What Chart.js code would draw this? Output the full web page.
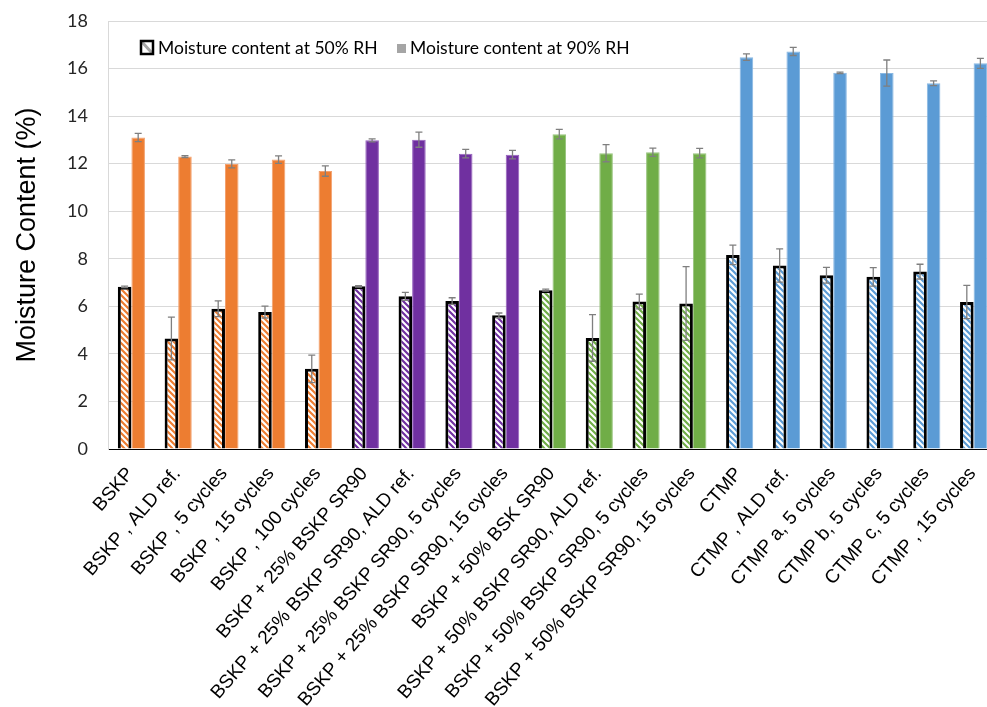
<!DOCTYPE html>
<html>
<head>
<meta charset="utf-8">
<script src="https://cdn.jsdelivr.net/npm/chart.js@4.4.1/dist/chart.umd.min.js"></script>
<style>
  html, body { margin: 0; padding: 0; background: #fff; overflow: hidden; }
</style>
</head>
<body>
<canvas id="chart" width="1000" height="707" style="width:1000px;height:707px"></canvas>
<script>
const categories = [
  'BSKP', 'BSKP , ALD ref.', 'BSKP , 5 cycles', 'BSKP , 15 cycles', 'BSKP , 100 cycles',
  'BSKP + 25% BSKP SR90', 'BSKP + 25% BSKP SR90, ALD ref.', 'BSKP + 25% BSKP SR90, 5 cycles', 'BSKP + 25% BSKP SR90, 15 cycles',
  'BSKP + 50% BSK SR90', 'BSKP + 50% BSKP SR90, ALD ref.', 'BSKP + 50% BSKP SR90, 5 cycles', 'BSKP + 50% BSKP SR90, 15 cycles',
  'CTMP', 'CTMP , ALD ref.', 'CTMP a, 5 cycles', 'CTMP b, 5 cycles', 'CTMP c, 5 cycles', 'CTMP , 15 cycles'
];
// pulp family of each sample: 0 BSKP, 1 +25% SR90, 2 +50% SR90, 3 CTMP
const family = [0, 0, 0, 0, 0, 1, 1, 1, 1, 2, 2, 2, 2, 3, 3, 3, 3, 3, 3];

const moisture50 = [6.82, 4.65, 5.90, 5.76, 3.37, 6.84, 6.42, 6.22, 5.62, 6.68, 4.67, 6.20, 6.12, 8.16, 7.72, 7.31, 7.24, 7.46, 6.18];
const stdev50    = [0.03, 0.90, 0.33, 0.25, 0.58, 0.03, 0.17, 0.14, 0.10, 0.04, 0.98, 0.31, 1.55, 0.41, 0.70, 0.33, 0.39, 0.31, 0.70];
const moisture90 = [13.10, 12.30, 11.99, 12.17, 11.69, 12.98, 13.01, 12.42, 12.38, 13.24, 12.44, 12.48, 12.44, 16.48, 16.72, 15.82, 15.81, 15.38, 16.22];
const stdev90    = [0.17, 0.04, 0.17, 0.16, 0.22, 0.06, 0.32, 0.18, 0.18, 0.20, 0.36, 0.17, 0.20, 0.14, 0.17, 0.03, 0.55, 0.10, 0.21];

const yTicks = [0, 2, 4, 6, 8, 10, 12, 14, 16, 18];
const seriesNames = ['Moisture content at 50% RH', 'Moisture content at 90% RH'];

const fill = ['#ED7D31', '#7030A0', '#70AD47', '#5B9BD5'];
const edge = ['#F3A270', '#9560BD', '#97C47C', '#89B8E3'];

const canvas = document.getElementById('chart');
const ctx = canvas.getContext('2d');

function hatch(color) {
  const c = document.createElement('canvas');
  c.width = 6; c.height = 6;
  const g = c.getContext('2d');
  g.fillStyle = '#fff';
  g.fillRect(0, 0, 6, 6);
  g.strokeStyle = color;
  g.lineWidth = 2.2;
  g.beginPath();
  for (const k of [-6, 0, 6]) { g.moveTo(k - 1, -1); g.lineTo(k + 7, 7); }
  g.stroke();
  return ctx.createPattern(c, 'repeat');
}
const hatches = fill.map(hatch);

const errorBars = {
  id: 'errorBars',
  afterDatasetsDraw(chart) {
    const c = chart.ctx, y = chart.scales.y;
    c.save();
    c.strokeStyle = '#7f7f7f';
    c.lineWidth = 1.3;
    chart.data.datasets.forEach((ds, i) => {
      chart.getDatasetMeta(i).data.forEach((bar, j) => {
        const top = y.getPixelForValue(ds.data[j] + ds.errors[j]);
        const bot = y.getPixelForValue(ds.data[j] - ds.errors[j]);
        c.beginPath();
        c.moveTo(bar.x, top); c.lineTo(bar.x, bot);
        c.moveTo(bar.x - 3.5, top); c.lineTo(bar.x + 3.5, top);
        c.moveTo(bar.x - 3.5, bot); c.lineTo(bar.x + 3.5, bot);
        c.stroke();
      });
    });
    c.restore();
  }
};

// legend sits inside the plot, above the 16 % gridline
const innerLegend = {
  id: 'innerLegend',
  afterDraw(chart) {
    const c = chart.ctx;
    c.save();
    // hatched key
    c.fillStyle = '#fff';
    c.fillRect(141, 41, 12, 13);
    c.strokeStyle = '#a5a5a5';
    c.lineWidth = 3;
    c.beginPath(); c.moveTo(142, 42); c.lineTo(152, 53); c.stroke();
    c.strokeStyle = '#000';
    c.lineWidth = 2.5;
    c.strokeRect(141, 41, 12, 13);
    // solid key
    c.fillStyle = '#a5a5a5';
    c.fillRect(397, 44, 9, 9);
    c.fillStyle = '#000';
    c.font = '17.5px Lato';
    c.textBaseline = 'middle';
    c.fillText(seriesNames[0], 158, 48);
    c.fillText(seriesNames[1], 410, 48);
    c.restore();
  }
};

new Chart(ctx, {
  type: 'bar',
  data: {
    labels: categories,
    datasets: [{
      label: seriesNames[0],
      data: moisture50,
      errors: stdev50,
      backgroundColor: family.map(f => hatches[f]),
      borderColor: '#000',
      borderWidth: 3
    }, {
      label: seriesNames[1],
      data: moisture90,
      errors: stdev90,
      backgroundColor: family.map(f => fill[f]),
      borderColor: family.map(f => edge[f]),
      borderWidth: 1
    }]
  },
  options: {
    responsive: false,
    animation: false,
    categoryPercentage: 0.58,
    barPercentage: 1,
    layout: { padding: { top: 21, right: 3, left: 0, bottom: 0 } },
    plugins: { legend: { display: false }, tooltip: { enabled: false } },
    scales: {
      x: {
        grid: { display: false },
        border: { color: '#000', width: 1 },
        ticks: {
          autoSkip: false, minRotation: 49, maxRotation: 49, padding: 6, labelOffset: -1,
          color: '#000', font: { family: 'Liberation Sans', size: 19 }
        },
        afterFit(s) { s.height = 258; }
      },
      y: {
        min: 0, max: 18,
        afterBuildTicks(s) { s.ticks = yTicks.map(v => ({ value: v })); },
        grid: {
          color: ctx => ctx.tick && ctx.tick.value === 0 ? 'rgba(0,0,0,0)' : '#d9d9d9',
          drawTicks: true, tickLength: 20, tickColor: 'rgba(0,0,0,0)'
        },
        border: { color: '#d9d9d9' },
        ticks: { padding: 0, color: '#262626', font: { family: 'Lato', size: 18 } },
        title: {
          display: true, text: 'Moisture Content (%)', color: '#000',
          font: { family: 'Liberation Sans', size: 27 }, padding: { top: 11, bottom: 0 }
        },
        afterFit(s) { s.width = 108; }
      }
    }
  },
  plugins: [errorBars, innerLegend]
});
</script>
</body>
</html>
